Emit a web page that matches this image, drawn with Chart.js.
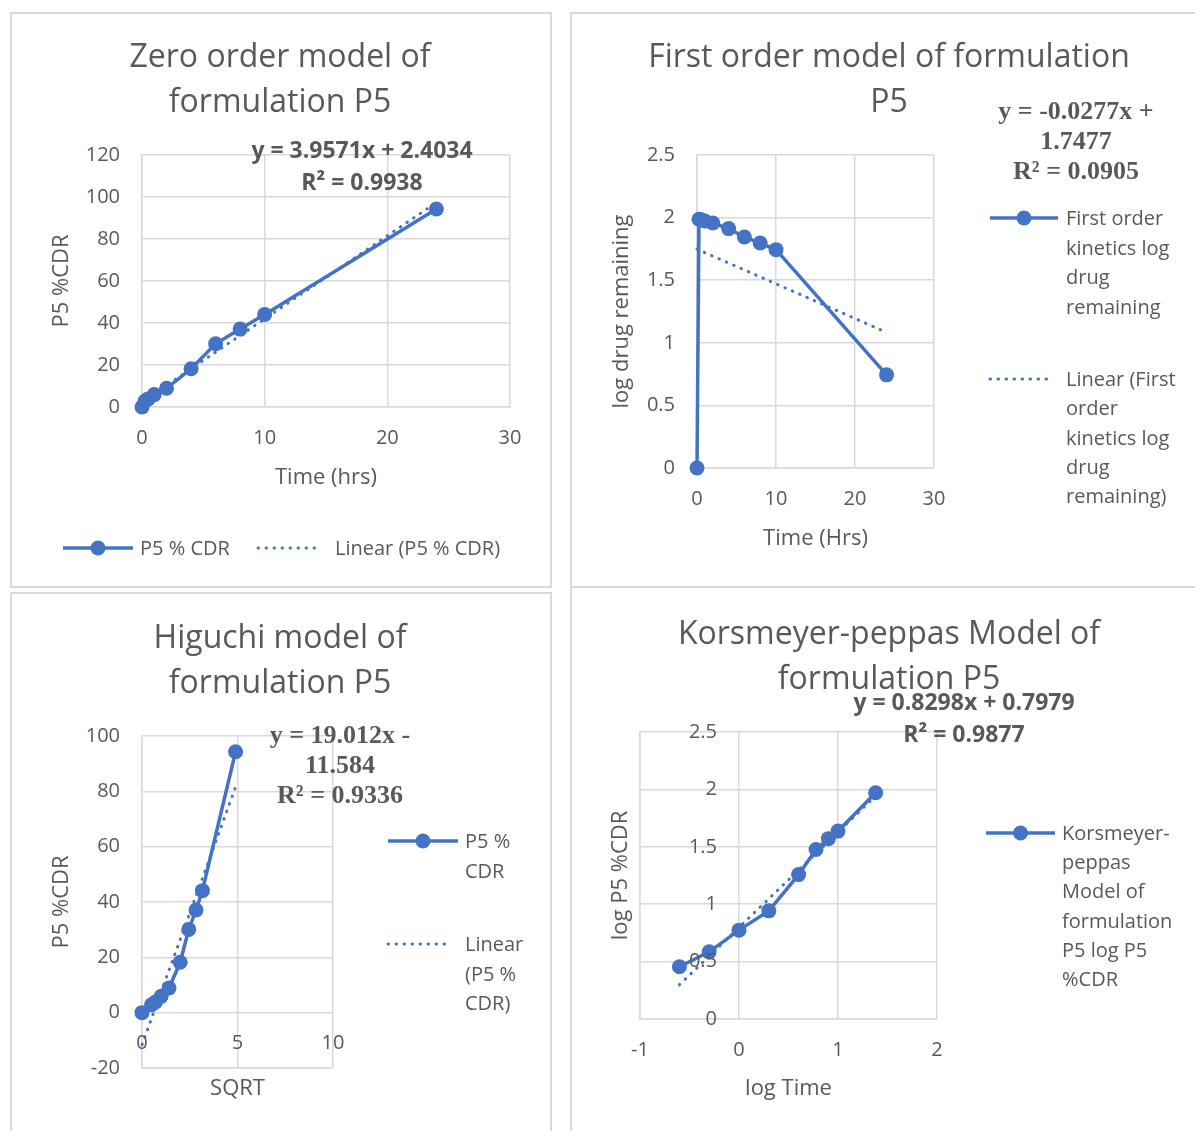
<!DOCTYPE html>
<html>
<head>
<meta charset="utf-8">
<title>Release kinetics of formulation P5</title>
<script src="https://cdn.jsdelivr.net/npm/chart.js@4.4.1/dist/chart.umd.min.js"></script>
<style>
  body { margin: 0; background: #fff; width: 1195px; height: 1131px; position: relative; overflow: hidden;
         font-family: "Open Sans", sans-serif; color: #595959; }
  .panel { position: absolute; border: 2px solid #d9d9d9; box-sizing: border-box; }
  canvas { position: absolute; }
  .c { position: absolute; white-space: nowrap; transform: translate(-50%, -50%); line-height: 1; }
  .l { position: absolute; white-space: nowrap; transform: translateY(-50%); line-height: 1; }
  svg { position: absolute; overflow: visible; }
</style>
</head>
<body>
<div class="panel" style="left:10px;top:12px;width:542px;height:576px"></div>
<div class="panel" style="left:570px;top:12px;width:640px;height:576px"></div>
<div class="panel" style="left:10px;top:592px;width:542px;height:560px"></div>
<div class="panel" style="left:570px;top:586px;width:640px;height:560px"></div>

<canvas id="zeroChart"></canvas>
<canvas id="firstChart"></canvas>
<canvas id="higuchiChart"></canvas>
<canvas id="kpChart"></canvas>

<script>
// time points (hrs) and release data for formulation P5
const timeHrs = [0, 0.25, 0.5, 1, 2, 4, 6, 8, 10, 24];
const cdr = [0, 2.85, 3.85, 5.9, 8.9, 18.2, 30.1, 37.1, 44.1, 94.3];

const logRemaining = [0, 1.987, 1.983, 1.973, 1.957, 1.912, 1.845, 1.797, 1.744, 0.744];

const sqrtTime = [0, 0.5, 0.707, 1, 1.414, 2, 2.449, 2.828, 3.162, 4.899];

const logTime = [-0.602, -0.301, 0, 0.301, 0.602, 0.778, 0.903, 1, 1.380];
const logCdr = [0.455, 0.585, 0.774, 0.942, 1.258, 1.476, 1.571, 1.637, 1.971];

// trendline end points (from the equations printed on the charts)
const zeroTrendX = [0, 24];
const zeroTrendY = [2.403, 97.37];
const firstTrendX = [0, 24];
const firstTrendY = [1.748, 1.083];
const higuchiTrendX = [0, 4.899];
const higuchiTrendY = [-11.584, 81.556];
const kpTrendX = [-0.602, 1.380];
const kpTrendY = [0.298, 1.943];

const BLUE = '#4472C4';
const GREY = '#595959';
const GRID = '#d9d9d9';
const FONT = '"Open Sans", sans-serif';
const AXIS_TITLE = 22;

function pts(xs, ys) {
    return xs.map((x, i) => ({ x: x, y: ys[i] }));
}

function series(xs, ys) {
    return {
        data: pts(xs, ys), showLine: true, borderColor: BLUE, backgroundColor: BLUE,
        borderWidth: 3.5, pointRadius: 7.5, pointBorderWidth: 0, clip: false, order: 1
    };
}

function trend(xs, ys) {
    return {
        data: pts(xs, ys), showLine: true, borderColor: BLUE, borderWidth: 3,
        borderDash: [0.5, 7.5], borderCapStyle: 'round', pointRadius: 0, clip: false, order: 0
    };
}

// Excel puts some tick labels inside the plot; chart.js clips them to the axis box,
// so those are drawn here from the scale's own ticks
const innerLabels = {
    id: 'innerLabels',
    afterDraw(chart, args, opts) {
        if (!opts.axis) return;
        const s = chart.scales[opts.axis];
        const ctx = chart.ctx;
        ctx.save();
        ctx.fillStyle = GREY;
        ctx.font = '20px ' + FONT;
        ctx.textBaseline = 'middle';
        s.ticks.forEach(t => {
            const p = s.getPixelForValue(t.value);
            if (s.isHorizontal()) {
                ctx.textAlign = 'center';
                ctx.fillText(t.label, p, chart.chartArea.bottom + opts.offset);
            } else {
                ctx.textAlign = 'right';
                ctx.fillText(t.label, chart.chartArea.left + opts.offset, p);
            }
        });
        ctx.restore();
    }
};

function axis(o, size) {
    return {
        type: 'linear', min: o.min, max: o.max,
        ticks: {
            stepSize: o.step, color: GREY, font: { family: FONT, size: 20 }, padding: o.pad,
            display: !o.inner,
            callback: v => String(Math.round(v * 100) / 100)
        },
        grid: { color: GRID, lineWidth: 1.5, drawTicks: false },
        border: { color: GRID, width: 1.5 },
        title: { display: true, text: o.title, color: GREY, font: { family: FONT, size: AXIS_TITLE }, padding: 0 },
        afterFit: s => { if (s.isHorizontal()) s.height = size; else s.width = size; }
    };
}

// box = canvas rect on page, area = wanted plot area on page
function buildChart(id, box, area, xo, yo, datasets) {
    const half = AXIS_TITLE * 1.2 / 2;
    const yw = area.l - yo.titleX + half;
    const xh = xo.titleY - area.b + half;
    const cv = document.getElementById(id);
    cv.width = box.w; cv.height = box.h;
    cv.style.left = box.x + 'px'; cv.style.top = box.y + 'px';
    cv.style.width = box.w + 'px'; cv.style.height = box.h + 'px';
    let inner = {};
    if (xo.inner) inner = { axis: 'x', offset: xo.inner };
    if (yo.inner) inner = { axis: 'y', offset: yo.inner };
    new Chart(cv, {
        type: 'scatter',
        data: { datasets: datasets },
        plugins: [innerLabels],
        options: {
            responsive: false, animation: false, devicePixelRatio: 1,
            layout: { padding: {
                left: area.l - box.x - yw, top: area.t - box.y,
                right: box.x + box.w - area.r, bottom: box.y + box.h - area.b - xh
            } },
            scales: { x: axis(xo, xh), y: axis(yo, yw) },
            plugins: { legend: { display: false }, tooltip: { enabled: false }, innerLabels: inner }
        }
    });
}

buildChart('zeroChart', { x: 10, y: 12, w: 542, h: 576 }, { l: 142, t: 155, r: 510, b: 407 },
    { min: 0, max: 30, step: 10, pad: 19, title: 'Time (hrs)', titleY: 478 },
    { min: 0, max: 120, step: 20, pad: 22, title: 'P5 %CDR', titleX: 62 },
    [trend(zeroTrendX, zeroTrendY), series(timeHrs, cdr)]);

buildChart('firstChart', { x: 570, y: 12, w: 625, h: 576 }, { l: 697, t: 155, r: 934, b: 468 },
    { min: 0, max: 30, step: 10, pad: 19, title: 'Time (Hrs)', titleY: 539 },
    { min: 0, max: 2.5, step: 0.5, pad: 22, title: 'log drug remaining', titleX: 622 },
    [trend(firstTrendX, firstTrendY), series(timeHrs, logRemaining)]);

buildChart('higuchiChart', { x: 10, y: 592, w: 542, h: 539 }, { l: 142, t: 736, r: 333, b: 1068 },
    { min: 0, max: 10, step: 5, pad: 0, inner: -25, title: 'SQRT', titleY: 1089 },
    { min: -20, max: 100, step: 20, pad: 22, title: 'P5 %CDR', titleX: 62 },
    [trend(higuchiTrendX, higuchiTrendY), series(sqrtTime, cdr)]);

buildChart('kpChart', { x: 570, y: 587, w: 625, h: 544 }, { l: 640, t: 732, r: 937, b: 1019 },
    { min: -1, max: 2, step: 1, pad: 19, title: 'log Time', titleY: 1089 },
    { min: 0, max: 2.5, step: 0.5, pad: 0, inner: 77, title: 'log P5 %CDR', titleX: 621 },
    [trend(kpTrendX, kpTrendY), series(logTime, logCdr)]);

// titles, trendline equations and legends
function textLines(lines, x, y0, step, cls, style) {
    lines.forEach((t, i) => {
        const d = document.createElement('div');
        d.className = cls;
        d.textContent = t;
        d.style.cssText = style + ';left:' + x + 'px;top:' + (y0 + i * step) + 'px';
        document.body.appendChild(d);
    });
}

function legendMark(x1, x2, y, dotted) {
    const ns = 'http://www.w3.org/2000/svg';
    const s = document.createElementNS(ns, 'svg');
    s.setAttribute('width', x2 - x1); s.setAttribute('height', 20);
    s.style.left = x1 + 'px'; s.style.top = (y - 10) + 'px';
    const ln = document.createElementNS(ns, 'line');
    ln.setAttribute('x1', 0); ln.setAttribute('x2', x2 - x1);
    ln.setAttribute('y1', 10); ln.setAttribute('y2', 10);
    ln.setAttribute('stroke', BLUE); ln.setAttribute('stroke-width', dotted ? 3 : 3.5);
    if (dotted) { ln.setAttribute('stroke-dasharray', '0.5 7.5'); ln.setAttribute('stroke-linecap', 'round'); }
    s.appendChild(ln);
    if (!dotted) {
        const c = document.createElementNS(ns, 'circle');
        c.setAttribute('cx', (x2 - x1) / 2); c.setAttribute('cy', 10); c.setAttribute('r', 7.5);
        c.setAttribute('fill', BLUE);
        s.appendChild(c);
    }
    document.body.appendChild(s);
}

const titleCss = 'font-size:32px';
const sansEq = 'font-size:23px;font-weight:bold';
const serifEq = 'font-family:"Liberation Serif",serif;font-size:26px;font-weight:bold';
const legCss = 'font-size:20px';

textLines(['Zero order model of', 'formulation P5'], 280, 55, 45, 'c', titleCss);
textLines(['First order model of formulation', 'P5'], 889, 55, 45, 'c', titleCss);
textLines(['Higuchi model of', 'formulation P5'], 280, 636, 45, 'c', titleCss);
textLines(['Korsmeyer-peppas Model of', 'formulation P5'], 889, 632, 45, 'c', titleCss);

textLines(['y = 3.9571x + 2.4034', 'R² = 0.9938'], 362, 149, 32, 'c', sansEq);
textLines(['y = -0.0277x +', '1.7477', 'R² = 0.0905'], 1076, 111, 30, 'c', serifEq);
textLines(['y = 19.012x -', '11.584', 'R² = 0.9336'], 340, 735, 30, 'c', serifEq);
textLines(['y = 0.8298x + 0.7979', 'R² = 0.9877'], 964, 701, 32, 'c', sansEq);

legendMark(63, 133, 548, false);
textLines(['P5 % CDR'], 140, 548, 0, 'l', legCss);
legendMark(258, 322, 548, true);
textLines(['Linear (P5 % CDR)'], 335, 548, 0, 'l', legCss);

legendMark(990, 1058, 218, false);
textLines(['First order', 'kinetics log', 'drug', 'remaining'], 1066, 218, 29.5, 'l', legCss);
legendMark(990, 1052, 379, true);
textLines(['Linear (First', 'order', 'kinetics log', 'drug', 'remaining)'], 1066, 379, 29.3, 'l', legCss);

legendMark(388, 458, 841, false);
textLines(['P5 %', 'CDR'], 465, 841, 30, 'l', legCss);
legendMark(388, 452, 944, true);
textLines(['Linear', '(P5 %', 'CDR)'], 465, 944, 29.5, 'l', legCss);

legendMark(986, 1055, 833, false);
textLines(['Korsmeyer-', 'peppas', 'Model of', 'formulation', 'P5 log P5', '%CDR'], 1062, 833, 29.2, 'l', legCss);
</script>
</body>
</html>
